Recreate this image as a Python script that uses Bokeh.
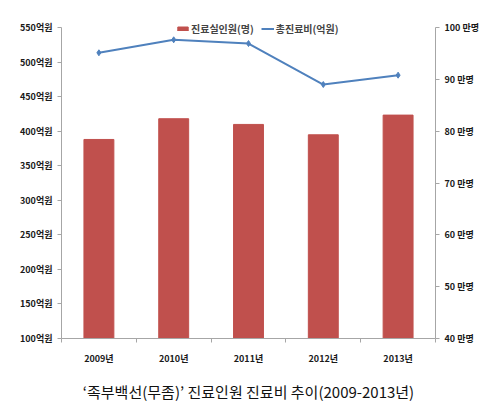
from bokeh.embed import file_html
from bokeh.resources import INLINE
from bokeh.plotting import figure
from bokeh.models import (Range1d, LinearAxis, FixedTicker, Legend, LegendItem, Title)

# data
years = ["2009년", "2010년", "2011년", "2012년", "2013년"]
people = [78.4, 82.4, 81.3, 79.3, 83.1]          # 진료실인원 (만명)
cost = [513.4, 532.2, 526.8, 467.5, 481.0]        # 총진료비 (억원)

cost_ticks = [100, 150, 200, 250, 300, 350, 400, 450, 500, 550]
people_ticks = [40, 50, 60, 70, 80, 90, 100]

FONT = "Noto Sans CJK KR"
AXIS_GRAY = "#a6a6a6"

xs = [i + 0.5 for i in range(len(years))]

# axis area is 311px tall; the frame gets 10px extra headroom for the legend
AXIS_PX, HEAD_PX = 311, 10
cost_lo, cost_hi = cost_ticks[0], cost_ticks[-1]
ppl_lo, ppl_hi = people_ticks[0], people_ticks[-1]
cost_top = cost_hi + (cost_hi - cost_lo) * HEAD_PX / AXIS_PX
ppl_top = ppl_hi + (ppl_hi - ppl_lo) * HEAD_PX / AXIS_PX

p = figure(frame_width=374, frame_height=AXIS_PX + HEAD_PX, output_backend="svg",
           toolbar_location=None,
           x_range=Range1d(0, len(years)), y_range=Range1d(cost_lo, cost_top),
           min_border_left=61, min_border_right=42, min_border_top=17, min_border_bottom=40,
           outline_line_color=None, y_axis_location=None, x_axis_location=None)
p.xgrid.visible = False
p.ygrid.visible = False
p.extra_y_ranges = {"people": Range1d(ppl_lo, ppl_top)}

bars = p.vbar(x=xs, top=people, bottom=ppl_lo, width=0.4, y_range_name="people",
              fill_color="#c0504d", line_color="#c0504d")
line = p.line(x=xs, y=cost, line_color="#4f81bd", line_width=2)
pts = p.scatter(x=xs, y=cost, marker="diamond", size=6, fill_color="#4f81bd",
                line_color="#4f81bd")


def style_axis(ax):
    ax.axis_line_color = AXIS_GRAY
    ax.major_tick_line_color = AXIS_GRAY
    ax.minor_tick_line_color = AXIS_GRAY
    ax.major_tick_in = 0
    ax.major_tick_out = 4
    ax.minor_tick_in = 0
    ax.minor_tick_out = 4
    ax.major_label_text_font = FONT
    ax.major_label_text_font_style = "bold"
    ax.major_label_text_font_size = "9px"
    ax.major_label_text_color = "#1a1a1a"


left = LinearAxis(ticker=FixedTicker(ticks=cost_ticks), bounds=(cost_lo, cost_hi),
                  major_label_overrides={t: f"{t}억원" for t in cost_ticks})
style_axis(left)
left.major_label_standoff = 5
p.add_layout(left, "left")

right = LinearAxis(y_range_name="people", ticker=FixedTicker(ticks=people_ticks),
                   bounds=(ppl_lo, ppl_hi),
                   major_label_overrides={t: f"{t} 만명" for t in people_ticks})
style_axis(right)
right.major_label_standoff = 5
p.add_layout(right, "right")

bottom = LinearAxis(ticker=FixedTicker(ticks=xs, minor_ticks=list(range(len(years) + 1))),
                    major_label_overrides={x: y for x, y in zip(xs, years)})
style_axis(bottom)
bottom.major_tick_line_color = None
bottom.major_label_standoff = 9
p.add_layout(bottom, "below")

legend = Legend(items=[LegendItem(label="진료실인원(명)", renderers=[bars]),
                       LegendItem(label="총진료비(억원)", renderers=[line, pts])],
                location=(115, 302), orientation="horizontal",
                label_text_font=FONT, label_text_font_style="bold", label_text_font_size="10px",
                label_standoff=2, spacing=7, padding=0, margin=0,
                glyph_width=13, glyph_height=5, label_height=12,
                border_line_color=None, background_fill_alpha=0)
p.add_layout(legend)

p.add_layout(Title(text="‘족부백선(무좀)’ 진료인원 진료비 추이(2009-2013년)", align="center",
                   text_font=FONT, text_font_style="normal", text_font_size="15px",
                   text_color="#111111", standoff=22), "below")

open("out.html", "w").write(file_html(p, INLINE))
